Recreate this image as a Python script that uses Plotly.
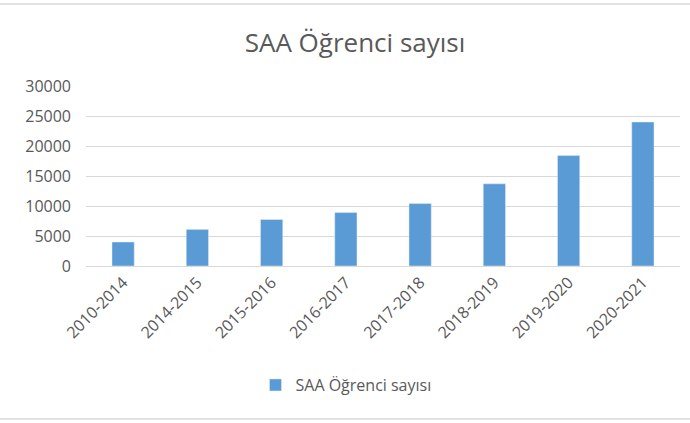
import plotly.graph_objects as go

categories = ["2010-2014", "2014-2015", "2015-2016", "2016-2017",
              "2017-2018", "2018-2019", "2019-2020", "2020-2021"]
values = [4000, 6100, 7750, 8900, 10400, 13700, 18400, 24000]
y_ticks = [0, 5000, 10000, 15000, 20000, 25000, 30000]
series_name = "SAA Öğrenci sayısı"
title_text = "SAA Öğrenci sayısı"

W, H = 690, 423
L, R, T, B = 86, 10, 86, 157
pw, ph = W - L - R, H - T - B

def px_x(x):
    return (x - L) / pw

def px_y(y):
    return (H - B - y) / ph

fig = go.Figure()
fig.add_trace(go.Bar(x=categories, y=values, name=series_name,
                     marker=dict(color="#5B9BD5"), showlegend=True))

gray = "#595959"
font = "Open Sans, Liberation Sans, sans-serif"
fig.update_layout(
    width=W, height=H,
    margin=dict(l=L, r=R, t=T, b=B),
    paper_bgcolor="white", plot_bgcolor="white",
    bargap=0.7,
    title=dict(text=title_text, x=355 / W, xanchor="center", y=1 - 43 / H, yanchor="middle",
               font=dict(family=font, size=26, color=gray)),
    font=dict(family=font, color=gray),
    showlegend=True,
    legend=dict(orientation="h", x=px_x(346), xanchor="center", y=px_y(385), yanchor="middle",
                font=dict(family=font, size=16, color=gray), itemwidth=30),
    xaxis=dict(tickangle=-45, tickfont=dict(family=font, size=16, color=gray),
               showline=True, linecolor="#D9D9D9", linewidth=1, ticks="", showgrid=False),
    yaxis=dict(range=[0, 30000], tickvals=y_ticks, ticktext=[str(v) for v in y_ticks],
               tickfont=dict(family=font, size=16, color=gray),
               gridcolor="#D9D9D9", gridwidth=1, zeroline=False, showline=False,
               ticklabelstandoff=14),
)
# chart frame lines
for yy in (4, 419):
    fig.add_shape(type="line", xref="paper", yref="paper",
                  x0=px_x(0), x1=px_x(W), y0=px_y(yy), y1=px_y(yy),
                  line=dict(color="#D9D9D9", width=1.5))

fig.write_html("out.html", config={"displayModeBar": False},
               post_script="document.body.style.margin='0';")
